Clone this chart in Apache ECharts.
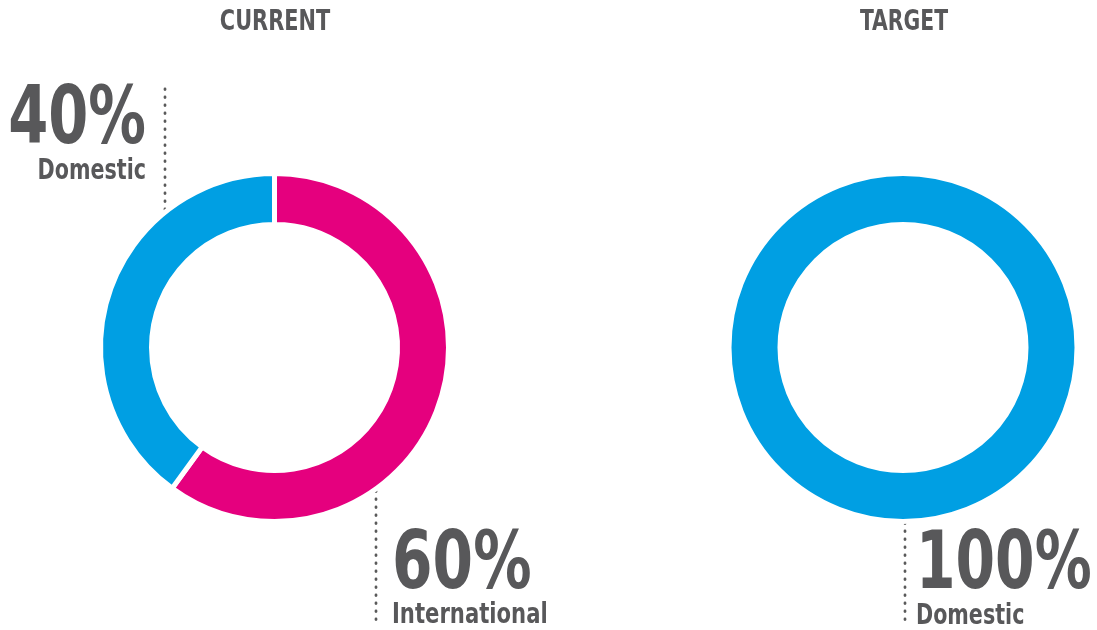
<!DOCTYPE html>
<html>
<head>
<meta charset="utf-8">
<script src="https://cdn.jsdelivr.net/npm/echarts@6/dist/echarts.min.js"></script>
<style>
  html, body { margin: 0; padding: 0; background: #fff; }
  #chart { width: 1097px; height: 630px; }
</style>
</head>
<body>
<div id="chart"></div>
<script>
// chart values
const titles = ['CURRENT', 'TARGET'];
const currentNames = ['International', 'Domestic'];
const currentValues = [60, 40];
const targetNames = ['Domestic'];
const targetValues = [100];

const PINK = '#E5007E';
const BLUE = '#009FE3';
const TEXT = '#58585A';
const FONT = "'DejaVu Sans Condensed', 'DejaVu Sans', sans-serif";

const pct = (vals, i) => Math.round(vals[i] / vals.reduce((a, b) => a + b, 0) * 100) + '%';

const chart = echarts.init(document.getElementById('chart'));

function dots(x, y1, y2) {
  return {
    type: 'line',
    shape: { x1: x, y1: y1, x2: x, y2: y2 },
    style: { stroke: '#5a5a5a', lineWidth: 2.8, lineDash: [0.5, 7.5], lineCap: 'round' },
    silent: true
  };
}

// condensed bold look: DejaVu Condensed squeezed a bit more
function label(x, y, text, size, align, sx) {
  return {
    type: 'text',
    x: x,
    y: y,
    scaleX: sx,
    style: {
      text: text,
      fill: TEXT,
      font: 'bold ' + size + 'px ' + FONT,
      align: align,
      verticalAlign: 'middle'
    },
    silent: true
  };
}

const pieBase = {
  type: 'pie',
  radius: [123, 174],
  startAngle: 90,
  clockwise: true,
  silent: true,
  label: { show: false },
  labelLine: { show: false },
  itemStyle: { borderColor: '#fff', borderWidth: 5 }
};

const option = {
  animation: false,
  backgroundColor: '#fff',
  series: [
    Object.assign({}, pieBase, {
      center: [274.5, 347.5],
      data: currentNames.map((n, i) => ({
        name: n, value: currentValues[i],
        itemStyle: { color: i === 0 ? PINK : BLUE }
      }))
    }),
    Object.assign({}, pieBase, {
      center: [903, 347.5],
      data: targetNames.map((n, i) => ({
        name: n, value: targetValues[i],
        itemStyle: { color: BLUE }
      }))
    })
  ],
  graphic: [
    label(275, 22, titles[0], 29, 'center', 0.8),
    label(904, 22, titles[1], 29, 'center', 0.78),
    dots(165, 89, 214),
    dots(376, 491, 623),
    dots(905, 523, 623),
    label(146, 122, pct(currentValues, 1), 80, 'right', 0.8),
    label(146, 172, currentNames[1], 28, 'right', 0.82),
    label(392, 567, pct(currentValues, 0), 80, 'left', 0.81),
    label(392, 616, currentNames[0], 28, 'left', 0.84),
    label(916, 567, pct(targetValues, 0), 80, 'left', 0.79),
    label(916, 617, targetNames[0], 28, 'left', 0.82)
  ]
};

chart.setOption(option);
window.addEventListener('resize', chart.resize);
</script>
</body>
</html>
